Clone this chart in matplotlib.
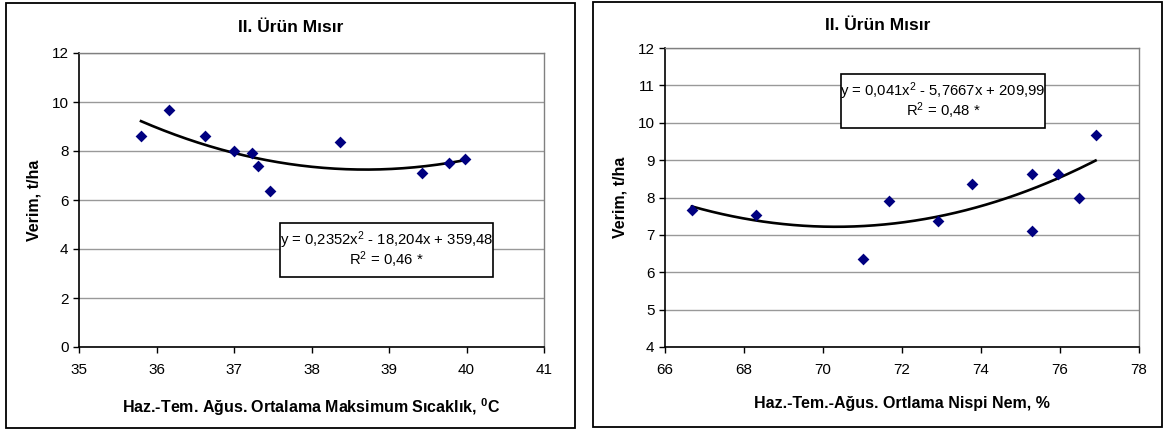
import numpy as np
import matplotlib.pyplot as plt
from matplotlib.patches import Rectangle

plt.rcParams['font.family'] = ['Liberation Sans', 'DejaVu Sans']
plt.rcParams['mathtext.fontset'] = 'custom'
plt.rcParams['mathtext.rm'] = 'Liberation Sans'
plt.rcParams['mathtext.it'] = 'Liberation Sans'
plt.rcParams['mathtext.bf'] = 'Liberation Sans:bold'

# shared yields (t/ha)
yields = [8.62, 9.68, 8.63, 8.0, 7.9, 7.38, 6.35, 8.35, 7.1, 7.53, 7.67]
# Haz.-Tem.-Ağus. mean max temperature
temp = [35.8, 36.16, 36.63, 37.0, 37.23, 37.31, 37.47, 38.37, 39.43, 39.77, 39.98]
# Haz.-Tem.-Ağus. mean relative humidity
hum = [75.3, 76.9, 75.96, 76.47, 71.68, 72.92, 71.01, 73.77, 75.3, 68.3, 66.68]

# trend coefficients as printed on the charts
coef_temp = [0.2352, -18.204, 359.48]
coef_hum = [0.041, -5.7667, 209.99]

title = "II. Ürün Mısır"
ylab = "Verim, t/ha"
xlab_temp = r"Haz.-Tem. Ağus. Ortalama Maksimum Sıcaklık, $\mathbf{^0}$C"
xlab_hum = "Haz.-Tem.-Ağus. Ortlama Nispi Nem, %"
eq_temp = ["y = 0,2352x$^2$ - 18,204x + 359,48", "R$^2$ = 0,46 *"]
eq_hum = ["y = 0,041x$^2$ - 5,7667x + 209,99", "R$^2$ = 0,48 *"]

W, H = 1168, 430
fig = plt.figure(figsize=(W / 100, H / 100), dpi=100)


def px(x0, y0, x1, y1):
    # pixel box (top-left origin) -> figure fraction
    return [x0 / W, 1 - y1 / H, (x1 - x0) / W, (y1 - y0) / H]


def panel(frame, box, xs, ys, coef, xlim, xticks, ylim, yticks, xlab, eq, eqbox, title_y):
    f = px(*frame)
    fig.patches.append(Rectangle((f[0], f[1]), f[2], f[3],
                                 transform=fig.transFigure, fill=False,
                                 edgecolor='black', linewidth=1.3))
    fig.text(f[0] + f[2] / 2, 1 - title_y / H, title,
             ha='center', va='center', fontsize=12.5, fontweight='bold')
    ax = fig.add_axes(px(*box))
    ax.set_xlim(*xlim)
    ax.set_ylim(*ylim)
    ax.set_xticks(xticks)
    ax.set_yticks(yticks)
    ax.yaxis.grid(True, color='#999999', linewidth=1)
    ax.set_axisbelow(True)
    for s in ['top', 'right']:
        ax.spines[s].set_color('#808080')
        ax.spines[s].set_linewidth(1)
    for s in ['left', 'bottom']:
        ax.spines[s].set_linewidth(1.2)
    ax.tick_params(direction='out', length=4, width=1, labelsize=11)
    ax.tick_params(axis='x', pad=7.5)
    ax.tick_params(axis='y', pad=3.5)

    xx = np.linspace(min(xs), max(xs), 200)
    ax.plot(xx, np.polyval(coef, xx), color='black', linewidth=1.9, zorder=2)
    ax.scatter(xs, ys, marker='D', s=36, color='#000080', linewidths=0, zorder=3)

    ax.set_xlabel(xlab, fontsize=11.5, fontweight='bold', labelpad=14)
    ax.set_ylabel(ylab, fontsize=11.5, fontweight='bold', labelpad=7)

    # equation box
    b = px(*eqbox)
    fig.patches.append(Rectangle((b[0], b[1]), b[2], b[3],
                                 transform=fig.transFigure, facecolor='white',
                                 edgecolor='black', linewidth=1.2, zorder=5))
    cx = b[0] + b[2] / 2
    top = eqbox[1]
    fig.text(cx, 1 - (top + 17) / H, eq[0], ha='center', va='center',
             fontsize=10.7, zorder=6)
    fig.text(cx, 1 - (top + 37) / H, eq[1], ha='center', va='center',
             fontsize=10.7, zorder=6)
    return ax


panel((6, 3, 575, 428), (79, 53, 544, 347), temp, yields, coef_temp,
      (35, 41), range(35, 42), (0, 12), range(0, 13, 2), xlab_temp, eq_temp,
      (280, 223, 493, 277), 27)

panel((593, 2, 1162, 427), (665, 48, 1139, 347), hum, yields, coef_hum,
      (66, 78), range(66, 79, 2), (4, 12), range(4, 13), xlab_hum, eq_hum,
      (841, 74, 1045, 128), 26)

fig.savefig('out.png', dpi=100)
